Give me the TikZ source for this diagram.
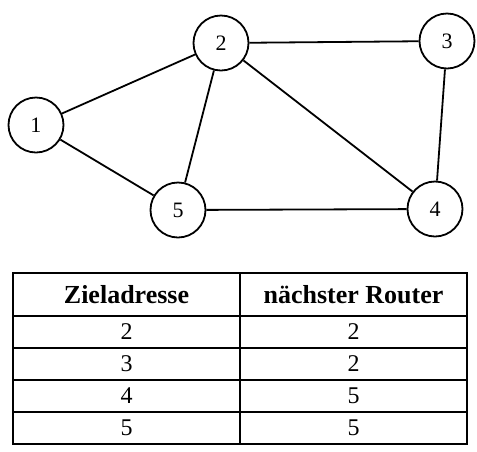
\documentclass[tikz,border=0pt]{standalone}
\usepackage{fontspec}
\setmainfont{Liberation Serif}
\usepackage{tikz}
\usetikzlibrary{positioning}

\begin{document}
\begin{tikzpicture}[x=1pt, y=-1pt,
        router/.style={draw, circle, line width=1.8pt, minimum size=55pt, inner sep=0pt, font=\fontsize{22}{22}\selectfont},
        link/.style={line width=1.8pt},
        cell/.style={draw, line width=1.9pt, minimum width=227pt, minimum height=32pt, inner sep=0pt, font=\fontsize{24}{24}\selectfont},
        head/.style={cell, minimum height=43pt, font=\fontsize{26}{26}\selectfont\bfseries}
    ]
    \useasboundingbox (0,0) rectangle (477,451);

    % Router
    \node[router] (r1) at (36,125) {1};
    \node[router] (r2) at (221,43) {2};
    \node[router] (r3) at (447,41) {3};
    \node[router] (r4) at (435,209) {4};
    \node[router] (r5) at (178,210) {5};

    % Verbindungen
    \draw[link] (r1) -- (r2);
    \draw[link] (r1) -- (r5);
    \draw[link] (r2) -- (r3);
    \draw[link] (r2) -- (r5);
    \draw[link] (r2) -- (r4);
    \draw[link] (r3) -- (r4);
    \draw[link] (r5) -- (r4);

    % Routingtabelle
    \node[head] (h1) at (126.5,294.5) {Zieladresse};
    \node[head] (h2) at (353.5,294.5) {nächster Router};
    \node[cell] (z2) at (126.5,332) {2};
    \node[cell] (n2) at (353.5,332) {2};
    \node[cell] (z3) at (126.5,364) {3};
    \node[cell] (n3) at (353.5,364) {2};
    \node[cell] (z4) at (126.5,396) {4};
    \node[cell] (n4) at (353.5,396) {5};
    \node[cell] (z5) at (126.5,428) {5};
    \node[cell] (n5) at (353.5,428) {5};

\end{tikzpicture}
\end{document}
